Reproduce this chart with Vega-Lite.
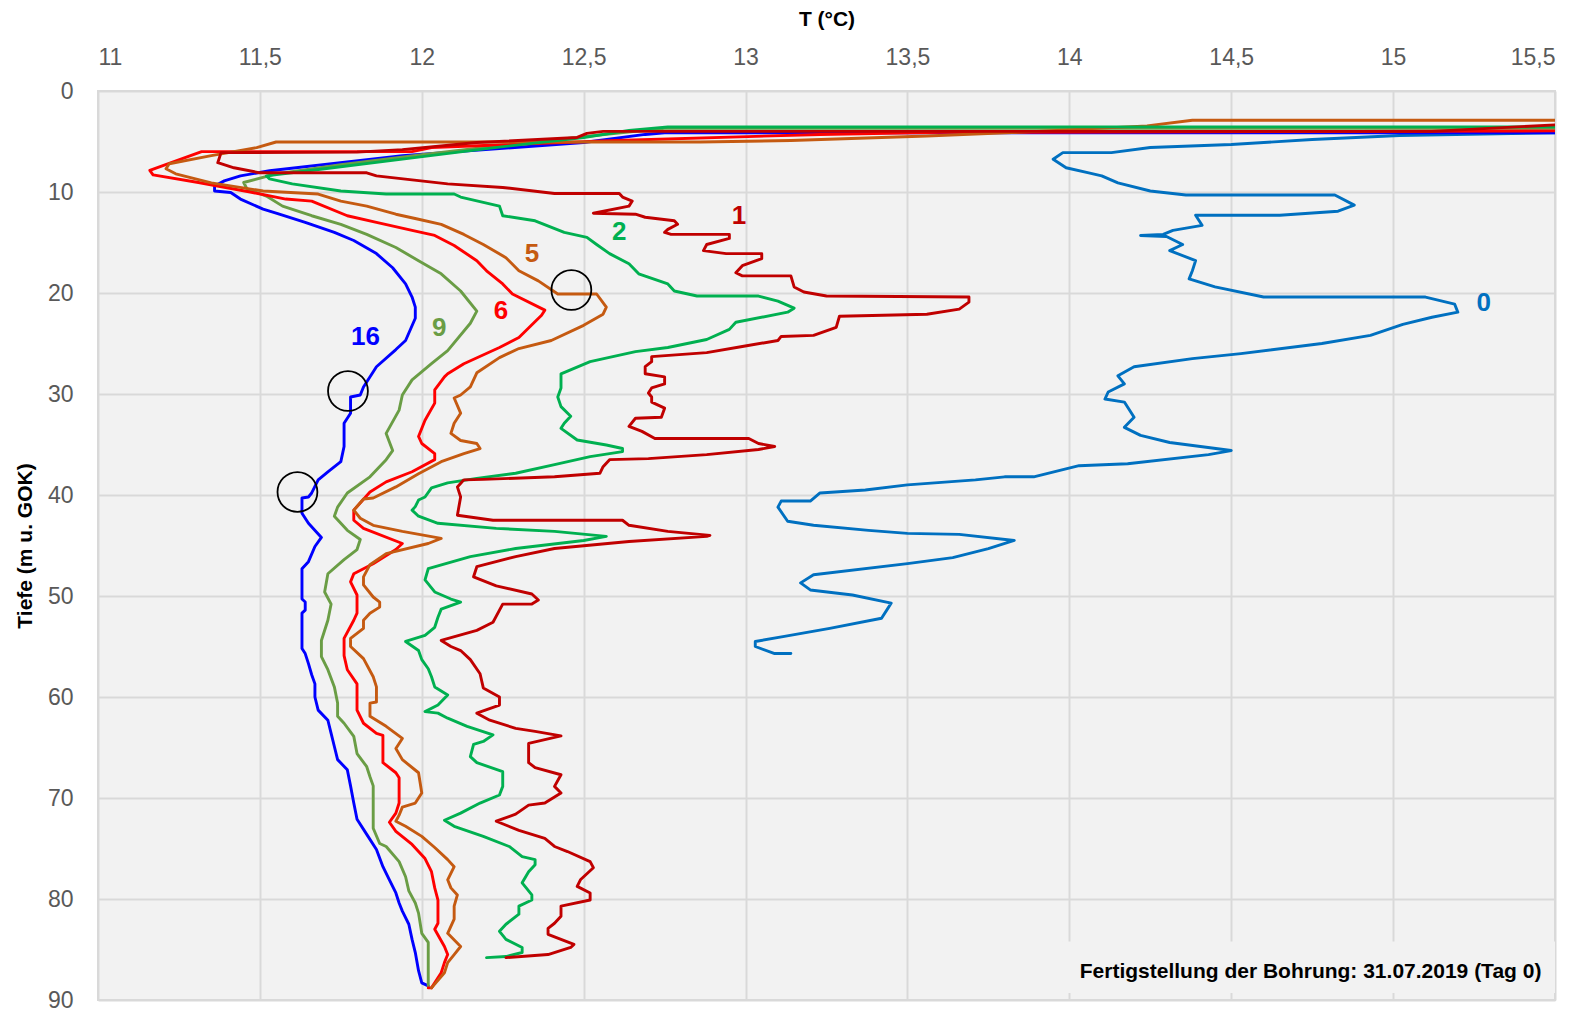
{
  "$schema": "https://vega.github.io/schema/vega-lite/v6.json",
  "width": 1457,
  "height": 909,
  "autosize": {"type": "none"},
  "padding": {"left": 98, "top": 91, "right": 29, "bottom": 11},
  "background": "white",
  "config": {
    "font": "Liberation Sans",
    "view": {"fill": "#F2F2F2", "stroke": "#D9D9D9", "strokeWidth": 2}
  },
  "datasets": {
    "kurven": [
      {"k":"0","T":16.0,"z":4.1},{"k":"0","T":15.5,"z":4.15},{"k":"0","T":15.02,"z":4.4},{"k":"0","T":14.75,"z":4.8},{"k":"0","T":14.5,"z":5.3},{"k":"0","T":14.25,"z":5.6},{"k":"0","T":14.13,"z":6.1},{"k":"0","T":13.98,"z":6.1},{"k":"0","T":13.95,"z":6.75},{"k":"0","T":13.99,"z":7.6},{"k":"0","T":14.06,"z":8.1},{"k":"0","T":14.1,"z":8.4},{"k":"0","T":14.15,"z":9.1},{"k":"0","T":14.25,"z":9.9},{"k":"0","T":14.36,"z":10.3},{"k":"0","T":14.82,"z":10.3},{"k":"0","T":14.88,"z":11.3},{"k":"0","T":14.83,"z":11.9},{"k":"0","T":14.65,"z":12.3},{"k":"0","T":14.39,"z":12.3},{"k":"0","T":14.41,"z":13.3},{"k":"0","T":14.32,"z":13.8},{"k":"0","T":14.29,"z":14.2},{"k":"0","T":14.22,"z":14.3},{"k":"0","T":14.3,"z":14.4},{"k":"0","T":14.35,"z":15.2},{"k":"0","T":14.31,"z":15.8},{"k":"0","T":14.39,"z":16.8},{"k":"0","T":14.38,"z":17.8},{"k":"0","T":14.37,"z":18.6},{"k":"0","T":14.45,"z":19.4},{"k":"0","T":14.6,"z":20.4},{"k":"0","T":15.1,"z":20.4},{"k":"0","T":15.19,"z":21.1},{"k":"0","T":15.2,"z":21.9},{"k":"0","T":15.12,"z":22.4},{"k":"0","T":15.03,"z":23.1},{"k":"0","T":14.93,"z":24.2},{"k":"0","T":14.78,"z":25.0},{"k":"0","T":14.53,"z":26.0},{"k":"0","T":14.38,"z":26.5},{"k":"0","T":14.2,"z":27.3},{"k":"0","T":14.15,"z":28.2},{"k":"0","T":14.17,"z":29.0},{"k":"0","T":14.12,"z":29.8},{"k":"0","T":14.11,"z":30.5},{"k":"0","T":14.17,"z":30.8},{"k":"0","T":14.2,"z":32.3},{"k":"0","T":14.17,"z":33.3},{"k":"0","T":14.22,"z":34.1},{"k":"0","T":14.31,"z":34.8},{"k":"0","T":14.5,"z":35.6},{"k":"0","T":14.43,"z":36.0},{"k":"0","T":14.18,"z":36.9},{"k":"0","T":14.03,"z":37.1},{"k":"0","T":13.89,"z":38.2},{"k":"0","T":13.8,"z":38.2},{"k":"0","T":13.71,"z":38.5},{"k":"0","T":13.5,"z":39.0},{"k":"0","T":13.37,"z":39.5},{"k":"0","T":13.23,"z":39.8},{"k":"0","T":13.2,"z":40.6},{"k":"0","T":13.11,"z":40.6},{"k":"0","T":13.1,"z":41.2},{"k":"0","T":13.13,"z":42.6},{"k":"0","T":13.21,"z":43.0},{"k":"0","T":13.38,"z":43.5},{"k":"0","T":13.5,"z":43.8},{"k":"0","T":13.66,"z":43.9},{"k":"0","T":13.83,"z":44.5},{"k":"0","T":13.75,"z":45.3},{"k":"0","T":13.64,"z":46.2},{"k":"0","T":13.5,"z":46.8},{"k":"0","T":13.21,"z":47.9},{"k":"0","T":13.17,"z":48.7},{"k":"0","T":13.2,"z":49.4},{"k":"0","T":13.33,"z":49.9},{"k":"0","T":13.45,"z":50.7},{"k":"0","T":13.44,"z":51.2},{"k":"0","T":13.42,"z":52.2},{"k":"0","T":13.26,"z":53.2},{"k":"0","T":13.12,"z":54.0},{"k":"0","T":13.03,"z":54.5},{"k":"0","T":13.03,"z":55.0},{"k":"0","T":13.09,"z":55.7},{"k":"0","T":13.14,"z":55.7},

      {"k":"16","T":16.0,"z":4.15},{"k":"16","T":12.75,"z":4.15},{"k":"16","T":12.69,"z":4.3},{"k":"16","T":12.5,"z":5.1},{"k":"16","T":11.94,"z":6.4},{"k":"16","T":11.53,"z":7.9},{"k":"16","T":11.44,"z":8.4},{"k":"16","T":11.39,"z":8.9},{"k":"16","T":11.36,"z":9.4},{"k":"16","T":11.36,"z":9.9},{"k":"16","T":11.41,"z":10.05},{"k":"16","T":11.44,"z":10.7},{"k":"16","T":11.51,"z":11.7},{"k":"16","T":11.56,"z":12.2},{"k":"16","T":11.64,"z":13.0},{"k":"16","T":11.73,"z":14.0},{"k":"16","T":11.79,"z":14.8},{"k":"16","T":11.86,"z":16.1},{"k":"16","T":11.91,"z":17.5},{"k":"16","T":11.95,"z":19.1},{"k":"16","T":11.97,"z":20.4},{"k":"16","T":11.98,"z":21.4},{"k":"16","T":11.98,"z":22.5},{"k":"16","T":11.95,"z":24.7},{"k":"16","T":11.92,"z":25.6},{"k":"16","T":11.86,"z":27.3},{"k":"16","T":11.82,"z":29.3},{"k":"16","T":11.81,"z":30.1},{"k":"16","T":11.78,"z":30.3},{"k":"16","T":11.78,"z":31.9},{"k":"16","T":11.76,"z":32.9},{"k":"16","T":11.76,"z":34.2},{"k":"16","T":11.76,"z":35.2},{"k":"16","T":11.75,"z":36.7},{"k":"16","T":11.71,"z":37.7},{"k":"16","T":11.68,"z":38.5},{"k":"16","T":11.66,"z":39.8},{"k":"16","T":11.65,"z":40.2},{"k":"16","T":11.63,"z":40.3},{"k":"16","T":11.63,"z":41.8},{"k":"16","T":11.65,"z":42.8},{"k":"16","T":11.69,"z":44.2},{"k":"16","T":11.67,"z":45.1},{"k":"16","T":11.65,"z":46.6},{"k":"16","T":11.63,"z":47.3},{"k":"16","T":11.63,"z":50.3},{"k":"16","T":11.64,"z":50.6},{"k":"16","T":11.64,"z":51.4},{"k":"16","T":11.63,"z":51.7},{"k":"16","T":11.63,"z":55.2},{"k":"16","T":11.64,"z":55.7},{"k":"16","T":11.65,"z":56.7},{"k":"16","T":11.66,"z":57.8},{"k":"16","T":11.67,"z":58.7},{"k":"16","T":11.67,"z":60.0},{"k":"16","T":11.68,"z":61.3},{"k":"16","T":11.71,"z":62.3},{"k":"16","T":11.72,"z":63.6},{"k":"16","T":11.73,"z":64.9},{"k":"16","T":11.74,"z":66.2},{"k":"16","T":11.77,"z":67.2},{"k":"16","T":11.78,"z":68.8},{"k":"16","T":11.79,"z":70.5},{"k":"16","T":11.8,"z":72.1},{"k":"16","T":11.83,"z":73.6},{"k":"16","T":11.86,"z":75.1},{"k":"16","T":11.88,"z":76.8},{"k":"16","T":11.9,"z":78.1},{"k":"16","T":11.92,"z":79.4},{"k":"16","T":11.93,"z":80.4},{"k":"16","T":11.94,"z":81.2},{"k":"16","T":11.96,"z":82.5},{"k":"16","T":11.97,"z":84.0},{"k":"16","T":11.98,"z":85.3},{"k":"16","T":11.99,"z":87.1},{"k":"16","T":12.0,"z":88.3},{"k":"16","T":12.02,"z":88.6},

      {"k":"9","T":16.0,"z":3.7},{"k":"9","T":12.75,"z":3.7},{"k":"9","T":12.6,"z":4.2},{"k":"9","T":12.3,"z":5.2},{"k":"9","T":12.0,"z":6.3},{"k":"9","T":11.75,"z":7.3},{"k":"9","T":11.55,"z":8.2},{"k":"9","T":11.45,"z":9.06},{"k":"9","T":11.46,"z":9.7},{"k":"9","T":11.52,"z":10.4},{"k":"9","T":11.57,"z":11.4},{"k":"9","T":11.66,"z":12.35},{"k":"9","T":11.75,"z":13.2},{"k":"9","T":11.83,"z":14.2},{"k":"9","T":11.92,"z":15.5},{"k":"9","T":11.99,"z":16.8},{"k":"9","T":12.06,"z":18.1},{"k":"9","T":12.12,"z":19.8},{"k":"9","T":12.17,"z":21.8},{"k":"9","T":12.15,"z":23.0},{"k":"9","T":12.08,"z":25.7},{"k":"9","T":12.03,"z":27.0},{"k":"9","T":11.97,"z":28.6},{"k":"9","T":11.94,"z":30.1},{"k":"9","T":11.93,"z":31.6},{"k":"9","T":11.89,"z":33.9},{"k":"9","T":11.91,"z":35.6},{"k":"9","T":11.89,"z":36.5},{"k":"9","T":11.84,"z":38.2},{"k":"9","T":11.77,"z":39.8},{"k":"9","T":11.74,"z":41.2},{"k":"9","T":11.73,"z":42.1},{"k":"9","T":11.77,"z":43.5},{"k":"9","T":11.81,"z":44.4},{"k":"9","T":11.8,"z":45.4},{"k":"9","T":11.76,"z":46.4},{"k":"9","T":11.71,"z":47.8},{"k":"9","T":11.7,"z":49.6},{"k":"9","T":11.72,"z":50.8},{"k":"9","T":11.71,"z":52.4},{"k":"9","T":11.69,"z":54.4},{"k":"9","T":11.69,"z":56.0},{"k":"9","T":11.71,"z":57.3},{"k":"9","T":11.73,"z":59.0},{"k":"9","T":11.74,"z":60.6},{"k":"9","T":11.74,"z":61.9},{"k":"9","T":11.76,"z":62.6},{"k":"9","T":11.79,"z":63.9},{"k":"9","T":11.8,"z":65.6},{"k":"9","T":11.83,"z":66.9},{"k":"9","T":11.84,"z":67.9},{"k":"9","T":11.85,"z":68.8},{"k":"9","T":11.85,"z":73.0},{"k":"9","T":11.87,"z":74.5},{"k":"9","T":11.89,"z":74.8},{"k":"9","T":11.93,"z":76.3},{"k":"9","T":11.95,"z":77.8},{"k":"9","T":11.96,"z":79.2},{"k":"9","T":11.98,"z":80.4},{"k":"9","T":11.99,"z":81.4},{"k":"9","T":12.0,"z":83.4},{"k":"9","T":12.02,"z":84.3},{"k":"9","T":12.02,"z":88.6},

      {"k":"6","T":16.0,"z":3.9},{"k":"6","T":15.5,"z":3.95},{"k":"6","T":13.6,"z":4.1},{"k":"6","T":13.23,"z":4.3},{"k":"6","T":12.6,"z":4.9},{"k":"6","T":12.03,"z":5.6},{"k":"6","T":11.97,"z":6.0},{"k":"6","T":11.32,"z":6.0},{"k":"6","T":11.16,"z":7.85},{"k":"6","T":11.17,"z":8.3},{"k":"6","T":11.31,"z":9.06},{"k":"6","T":11.47,"z":10.0},{"k":"6","T":11.58,"z":10.7},{"k":"6","T":11.66,"z":10.9},{"k":"6","T":11.77,"z":12.35},{"k":"6","T":11.86,"z":13.0},{"k":"6","T":11.97,"z":13.8},{"k":"6","T":12.04,"z":14.3},{"k":"6","T":12.1,"z":15.3},{"k":"6","T":12.17,"z":16.8},{"k":"6","T":12.2,"z":17.8},{"k":"6","T":12.25,"z":19.1},{"k":"6","T":12.28,"z":20.1},{"k":"6","T":12.38,"z":21.7},{"k":"6","T":12.37,"z":22.2},{"k":"6","T":12.3,"z":24.4},{"k":"6","T":12.24,"z":25.4},{"k":"6","T":12.13,"z":27.0},{"k":"6","T":12.08,"z":28.0},{"k":"6","T":12.07,"z":28.3},{"k":"6","T":12.04,"z":29.6},{"k":"6","T":12.04,"z":30.9},{"k":"6","T":12.01,"z":32.6},{"k":"6","T":11.99,"z":34.2},{"k":"6","T":12.0,"z":34.9},{"k":"6","T":12.04,"z":35.9},{"k":"6","T":12.04,"z":36.5},{"k":"6","T":11.97,"z":37.7},{"k":"6","T":11.89,"z":38.7},{"k":"6","T":11.84,"z":39.7},{"k":"6","T":11.79,"z":41.5},{"k":"6","T":11.79,"z":42.5},{"k":"6","T":11.82,"z":43.3},{"k":"6","T":11.94,"z":44.8},{"k":"6","T":11.92,"z":45.4},{"k":"6","T":11.85,"z":46.8},{"k":"6","T":11.79,"z":47.8},{"k":"6","T":11.78,"z":48.6},{"k":"6","T":11.8,"z":49.9},{"k":"6","T":11.8,"z":51.7},{"k":"6","T":11.79,"z":52.4},{"k":"6","T":11.76,"z":54.2},{"k":"6","T":11.76,"z":55.9},{"k":"6","T":11.77,"z":57.3},{"k":"6","T":11.8,"z":58.7},{"k":"6","T":11.8,"z":61.3},{"k":"6","T":11.82,"z":62.6},{"k":"6","T":11.86,"z":63.6},{"k":"6","T":11.88,"z":63.8},{"k":"6","T":11.88,"z":66.5},{"k":"6","T":11.92,"z":67.5},{"k":"6","T":11.93,"z":68.0},{"k":"6","T":11.93,"z":70.5},{"k":"6","T":11.92,"z":71.5},{"k":"6","T":11.9,"z":72.4},{"k":"6","T":11.92,"z":73.3},{"k":"6","T":11.97,"z":74.6},{"k":"6","T":11.99,"z":75.3},{"k":"6","T":12.01,"z":76.0},{"k":"6","T":12.03,"z":77.3},{"k":"6","T":12.04,"z":78.9},{"k":"6","T":12.05,"z":80.1},{"k":"6","T":12.05,"z":82.4},{"k":"6","T":12.04,"z":83.0},{"k":"6","T":12.07,"z":84.7},{"k":"6","T":12.08,"z":85.5},{"k":"6","T":12.07,"z":86.3},{"k":"6","T":12.06,"z":87.3},{"k":"6","T":12.03,"z":88.8},{"k":"6","T":12.02,"z":88.8},

      {"k":"5","T":16.0,"z":2.9},{"k":"5","T":14.38,"z":2.9},{"k":"5","T":14.24,"z":3.45},{"k":"5","T":13.9,"z":4.0},{"k":"5","T":13.56,"z":4.45},{"k":"5","T":13.14,"z":4.9},{"k":"5","T":12.86,"z":5.05},{"k":"5","T":11.55,"z":5.05},{"k":"5","T":11.49,"z":5.6},{"k":"5","T":11.35,"z":6.4},{"k":"5","T":11.22,"z":7.2},{"k":"5","T":11.21,"z":7.7},{"k":"5","T":11.24,"z":8.2},{"k":"5","T":11.35,"z":9.1},{"k":"5","T":11.51,"z":9.9},{"k":"5","T":11.68,"z":10.2},{"k":"5","T":11.75,"z":10.9},{"k":"5","T":11.83,"z":11.4},{"k":"5","T":11.92,"z":12.2},{"k":"5","T":11.99,"z":12.7},{"k":"5","T":12.06,"z":13.2},{"k":"5","T":12.13,"z":14.2},{"k":"5","T":12.19,"z":15.2},{"k":"5","T":12.26,"z":16.5},{"k":"5","T":12.3,"z":17.8},{"k":"5","T":12.36,"z":18.8},{"k":"5","T":12.42,"z":20.1},{"k":"5","T":12.54,"z":20.1},{"k":"5","T":12.57,"z":21.4},{"k":"5","T":12.56,"z":22.1},{"k":"5","T":12.5,"z":23.2},{"k":"5","T":12.4,"z":24.7},{"k":"5","T":12.3,"z":25.5},{"k":"5","T":12.24,"z":26.4},{"k":"5","T":12.17,"z":27.9},{"k":"5","T":12.15,"z":29.3},{"k":"5","T":12.12,"z":30.1},{"k":"5","T":12.1,"z":30.4},{"k":"5","T":12.12,"z":31.9},{"k":"5","T":12.1,"z":32.9},{"k":"5","T":12.09,"z":33.9},{"k":"5","T":12.12,"z":34.6},{"k":"5","T":12.17,"z":34.9},{"k":"5","T":12.18,"z":35.4},{"k":"5","T":12.13,"z":35.9},{"k":"5","T":12.06,"z":36.7},{"k":"5","T":11.99,"z":37.9},{"k":"5","T":11.92,"z":39.2},{"k":"5","T":11.85,"z":40.3},{"k":"5","T":11.82,"z":40.4},{"k":"5","T":11.79,"z":41.5},{"k":"5","T":11.81,"z":42.3},{"k":"5","T":11.85,"z":43.0},{"k":"5","T":11.94,"z":43.6},{"k":"5","T":12.06,"z":44.3},{"k":"5","T":12.02,"z":44.8},{"k":"5","T":11.89,"z":45.8},{"k":"5","T":11.84,"z":46.9},{"k":"5","T":11.82,"z":48.1},{"k":"5","T":11.82,"z":48.9},{"k":"5","T":11.85,"z":50.1},{"k":"5","T":11.87,"z":50.6},{"k":"5","T":11.87,"z":51.1},{"k":"5","T":11.84,"z":51.7},{"k":"5","T":11.82,"z":52.4},{"k":"5","T":11.82,"z":53.2},{"k":"5","T":11.78,"z":54.2},{"k":"5","T":11.78,"z":55.0},{"k":"5","T":11.82,"z":56.2},{"k":"5","T":11.85,"z":58.0},{"k":"5","T":11.86,"z":59.0},{"k":"5","T":11.86,"z":60.5},{"k":"5","T":11.84,"z":60.6},{"k":"5","T":11.84,"z":61.9},{"k":"5","T":11.89,"z":62.9},{"k":"5","T":11.94,"z":64.1},{"k":"5","T":11.92,"z":65.1},{"k":"5","T":11.94,"z":66.2},{"k":"5","T":11.99,"z":67.5},{"k":"5","T":12.0,"z":69.5},{"k":"5","T":11.98,"z":70.5},{"k":"5","T":11.94,"z":70.9},{"k":"5","T":11.93,"z":71.7},{"k":"5","T":11.92,"z":72.3},{"k":"5","T":11.95,"z":72.8},{"k":"5","T":12.0,"z":73.8},{"k":"5","T":12.04,"z":74.9},{"k":"5","T":12.08,"z":76.1},{"k":"5","T":12.1,"z":76.8},{"k":"5","T":12.08,"z":78.1},{"k":"5","T":12.09,"z":78.9},{"k":"5","T":12.11,"z":79.6},{"k":"5","T":12.1,"z":80.7},{"k":"5","T":12.1,"z":82.0},{"k":"5","T":12.08,"z":83.4},{"k":"5","T":12.12,"z":84.7},{"k":"5","T":12.1,"z":85.5},{"k":"5","T":12.08,"z":86.3},{"k":"5","T":12.07,"z":87.3},{"k":"5","T":12.03,"z":88.8},

      {"k":"2","T":16.0,"z":3.55},{"k":"2","T":12.76,"z":3.56},{"k":"2","T":12.64,"z":3.9},{"k":"2","T":12.5,"z":4.6},{"k":"2","T":12.2,"z":5.7},{"k":"2","T":11.94,"z":6.75},{"k":"2","T":11.7,"z":7.7},{"k":"2","T":11.52,"z":8.4},{"k":"2","T":11.53,"z":8.7},{"k":"2","T":11.6,"z":9.2},{"k":"2","T":11.75,"z":9.9},{"k":"2","T":11.89,"z":10.2},{"k":"2","T":12.1,"z":10.2},{"k":"2","T":12.12,"z":10.5},{"k":"2","T":12.24,"z":11.4},{"k":"2","T":12.25,"z":12.35},{"k":"2","T":12.35,"z":12.85},{"k":"2","T":12.44,"z":14.0},{"k":"2","T":12.51,"z":14.5},{"k":"2","T":12.54,"z":15.2},{"k":"2","T":12.58,"z":16.1},{"k":"2","T":12.64,"z":17.1},{"k":"2","T":12.67,"z":18.1},{"k":"2","T":12.76,"z":19.1},{"k":"2","T":12.78,"z":19.8},{"k":"2","T":12.85,"z":20.3},{"k":"2","T":13.04,"z":20.3},{"k":"2","T":13.1,"z":20.8},{"k":"2","T":13.15,"z":21.5},{"k":"2","T":13.13,"z":21.9},{"k":"2","T":12.97,"z":22.9},{"k":"2","T":12.95,"z":23.6},{"k":"2","T":12.88,"z":24.6},{"k":"2","T":12.76,"z":25.4},{"k":"2","T":12.66,"z":25.8},{"k":"2","T":12.52,"z":26.8},{"k":"2","T":12.43,"z":28.0},{"k":"2","T":12.43,"z":29.4},{"k":"2","T":12.42,"z":30.3},{"k":"2","T":12.43,"z":31.25},{"k":"2","T":12.46,"z":32.2},{"k":"2","T":12.44,"z":32.9},{"k":"2","T":12.43,"z":33.4},{"k":"2","T":12.48,"z":34.55},{"k":"2","T":12.57,"z":35.05},{"k":"2","T":12.62,"z":35.4},{"k":"2","T":12.62,"z":35.7},{"k":"2","T":12.52,"z":36.2},{"k":"2","T":12.41,"z":37.0},{"k":"2","T":12.29,"z":37.85},{"k":"2","T":12.17,"z":38.35},{"k":"2","T":12.08,"z":38.8},{"k":"2","T":12.03,"z":39.3},{"k":"2","T":12.01,"z":40.2},{"k":"2","T":11.99,"z":40.5},{"k":"2","T":11.98,"z":41.15},{"k":"2","T":11.97,"z":41.5},{"k":"2","T":11.99,"z":42.1},{"k":"2","T":12.05,"z":42.8},{"k":"2","T":12.23,"z":43.3},{"k":"2","T":12.41,"z":43.6},{"k":"2","T":12.57,"z":44.1},{"k":"2","T":12.5,"z":44.5},{"k":"2","T":12.29,"z":45.3},{"k":"2","T":12.15,"z":46.1},{"k":"2","T":12.02,"z":47.3},{"k":"2","T":12.01,"z":48.4},{"k":"2","T":12.04,"z":49.6},{"k":"2","T":12.09,"z":50.3},{"k":"2","T":12.12,"z":50.6},{"k":"2","T":12.06,"z":51.3},{"k":"2","T":12.05,"z":52.1},{"k":"2","T":12.04,"z":53.1},{"k":"2","T":12.01,"z":53.9},{"k":"2","T":11.95,"z":54.5},{"k":"2","T":11.99,"z":55.4},{"k":"2","T":12.0,"z":56.3},{"k":"2","T":12.02,"z":57.2},{"k":"2","T":12.03,"z":58.0},{"k":"2","T":12.04,"z":59.0},{"k":"2","T":12.08,"z":59.8},{"k":"2","T":12.05,"z":60.8},{"k":"2","T":12.01,"z":61.45},{"k":"2","T":12.05,"z":61.6},{"k":"2","T":12.08,"z":62.1},{"k":"2","T":12.14,"z":62.9},{"k":"2","T":12.22,"z":63.75},{"k":"2","T":12.19,"z":64.4},{"k":"2","T":12.16,"z":64.7},{"k":"2","T":12.15,"z":65.9},{"k":"2","T":12.17,"z":66.5},{"k":"2","T":12.25,"z":67.4},{"k":"2","T":12.25,"z":67.9},{"k":"2","T":12.25,"z":68.85},{"k":"2","T":12.24,"z":69.7},{"k":"2","T":12.18,"z":70.5},{"k":"2","T":12.12,"z":71.5},{"k":"2","T":12.07,"z":72.2},{"k":"2","T":12.1,"z":72.8},{"k":"2","T":12.19,"z":73.8},{"k":"2","T":12.27,"z":74.8},{"k":"2","T":12.31,"z":75.8},{"k":"2","T":12.35,"z":76.1},{"k":"2","T":12.35,"z":76.6},{"k":"2","T":12.33,"z":77.3},{"k":"2","T":12.31,"z":78.4},{"k":"2","T":12.34,"z":79.6},{"k":"2","T":12.34,"z":80.1},{"k":"2","T":12.3,"z":80.7},{"k":"2","T":12.3,"z":81.5},{"k":"2","T":12.26,"z":82.5},{"k":"2","T":12.24,"z":83.2},{"k":"2","T":12.26,"z":84.0},{"k":"2","T":12.31,"z":84.8},{"k":"2","T":12.31,"z":85.3},{"k":"2","T":12.26,"z":85.7},{"k":"2","T":12.2,"z":85.8},

      {"k":"1","T":16.0,"z":3.2},{"k":"1","T":15.5,"z":3.35},{"k":"1","T":15.12,"z":4.0},{"k":"1","T":12.56,"z":4.0},{"k":"1","T":12.51,"z":4.2},{"k":"1","T":12.48,"z":4.6},{"k":"1","T":12.17,"z":5.1},{"k":"1","T":11.94,"z":5.8},{"k":"1","T":11.8,"z":6.05},{"k":"1","T":11.38,"z":6.1},{"k":"1","T":11.37,"z":7.1},{"k":"1","T":11.42,"z":7.6},{"k":"1","T":11.5,"z":8.1},{"k":"1","T":11.83,"z":8.1},{"k":"1","T":11.86,"z":8.4},{"k":"1","T":11.97,"z":8.8},{"k":"1","T":12.08,"z":9.2},{"k":"1","T":12.25,"z":9.55},{"k":"1","T":12.41,"z":10.15},{"k":"1","T":12.61,"z":10.15},{"k":"1","T":12.62,"z":10.5},{"k":"1","T":12.65,"z":10.9},{"k":"1","T":12.64,"z":11.4},{"k":"1","T":12.53,"z":12.1},{"k":"1","T":12.66,"z":12.2},{"k":"1","T":12.69,"z":12.5},{"k":"1","T":12.78,"z":12.85},{"k":"1","T":12.79,"z":13.2},{"k":"1","T":12.76,"z":13.7},{"k":"1","T":12.75,"z":14.0},{"k":"1","T":12.77,"z":14.2},{"k":"1","T":12.95,"z":14.2},{"k":"1","T":12.95,"z":14.6},{"k":"1","T":12.88,"z":15.2},{"k":"1","T":12.87,"z":15.8},{"k":"1","T":12.94,"z":16.1},{"k":"1","T":13.05,"z":16.1},{"k":"1","T":13.05,"z":16.6},{"k":"1","T":12.99,"z":17.3},{"k":"1","T":12.97,"z":18.0},{"k":"1","T":12.99,"z":18.3},{"k":"1","T":13.14,"z":18.3},{"k":"1","T":13.15,"z":19.4},{"k":"1","T":13.18,"z":19.9},{"k":"1","T":13.25,"z":20.3},{"k":"1","T":13.69,"z":20.4},{"k":"1","T":13.69,"z":20.9},{"k":"1","T":13.66,"z":21.6},{"k":"1","T":13.56,"z":22.1},{"k":"1","T":13.29,"z":22.3},{"k":"1","T":13.28,"z":23.4},{"k":"1","T":13.21,"z":24.2},{"k":"1","T":13.11,"z":24.3},{"k":"1","T":13.1,"z":24.7},{"k":"1","T":12.99,"z":25.3},{"k":"1","T":12.88,"z":25.9},{"k":"1","T":12.71,"z":26.3},{"k":"1","T":12.71,"z":26.8},{"k":"1","T":12.69,"z":27.3},{"k":"1","T":12.69,"z":28.0},{"k":"1","T":12.75,"z":28.3},{"k":"1","T":12.75,"z":29.0},{"k":"1","T":12.71,"z":29.4},{"k":"1","T":12.7,"z":29.9},{"k":"1","T":12.71,"z":30.3},{"k":"1","T":12.71,"z":30.8},{"k":"1","T":12.75,"z":31.4},{"k":"1","T":12.74,"z":32.3},{"k":"1","T":12.66,"z":32.4},{"k":"1","T":12.64,"z":33.2},{"k":"1","T":12.68,"z":33.7},{"k":"1","T":12.72,"z":34.4},{"k":"1","T":13.01,"z":34.4},{"k":"1","T":13.04,"z":34.9},{"k":"1","T":13.09,"z":35.2},{"k":"1","T":13.04,"z":35.5},{"k":"1","T":12.88,"z":36.0},{"k":"1","T":12.7,"z":36.4},{"k":"1","T":12.58,"z":36.5},{"k":"1","T":12.56,"z":37.2},{"k":"1","T":12.55,"z":37.85},{"k":"1","T":12.41,"z":38.2},{"k":"1","T":12.19,"z":38.45},{"k":"1","T":12.13,"z":38.5},{"k":"1","T":12.11,"z":39.2},{"k":"1","T":12.12,"z":40.2},{"k":"1","T":12.11,"z":42.0},{"k":"1","T":12.22,"z":42.5},{"k":"1","T":12.62,"z":42.5},{"k":"1","T":12.64,"z":43.0},{"k":"1","T":12.76,"z":43.6},{"k":"1","T":12.89,"z":44.0},{"k":"1","T":12.88,"z":44.1},{"k":"1","T":12.64,"z":44.6},{"k":"1","T":12.41,"z":45.3},{"k":"1","T":12.29,"z":46.1},{"k":"1","T":12.17,"z":47.1},{"k":"1","T":12.16,"z":48.1},{"k":"1","T":12.23,"z":49.0},{"k":"1","T":12.34,"z":49.8},{"k":"1","T":12.36,"z":50.4},{"k":"1","T":12.34,"z":50.8},{"k":"1","T":12.25,"z":50.8},{"k":"1","T":12.24,"z":51.4},{"k":"1","T":12.22,"z":52.6},{"k":"1","T":12.17,"z":53.4},{"k":"1","T":12.06,"z":54.4},{"k":"1","T":12.09,"z":55.0},{"k":"1","T":12.12,"z":55.4},{"k":"1","T":12.15,"z":56.3},{"k":"1","T":12.18,"z":57.7},{"k":"1","T":12.19,"z":59.1},{"k":"1","T":12.24,"z":60.0},{"k":"1","T":12.24,"z":60.8},{"k":"1","T":12.17,"z":61.6},{"k":"1","T":12.21,"z":62.3},{"k":"1","T":12.29,"z":63.1},{"k":"1","T":12.35,"z":63.4},{"k":"1","T":12.43,"z":63.85},{"k":"1","T":12.33,"z":64.6},{"k":"1","T":12.33,"z":66.5},{"k":"1","T":12.35,"z":67.0},{"k":"1","T":12.43,"z":67.7},{"k":"1","T":12.41,"z":68.85},{"k":"1","T":12.43,"z":69.5},{"k":"1","T":12.38,"z":70.5},{"k":"1","T":12.33,"z":70.7},{"k":"1","T":12.29,"z":71.6},{"k":"1","T":12.23,"z":72.3},{"k":"1","T":12.3,"z":73.2},{"k":"1","T":12.38,"z":74.0},{"k":"1","T":12.41,"z":74.8},{"k":"1","T":12.45,"z":75.3},{"k":"1","T":12.52,"z":76.3},{"k":"1","T":12.53,"z":76.9},{"k":"1","T":12.49,"z":78.1},{"k":"1","T":12.48,"z":78.75},{"k":"1","T":12.52,"z":79.4},{"k":"1","T":12.52,"z":80.1},{"k":"1","T":12.43,"z":80.7},{"k":"1","T":12.43,"z":81.7},{"k":"1","T":12.41,"z":82.4},{"k":"1","T":12.39,"z":82.9},{"k":"1","T":12.39,"z":83.5},{"k":"1","T":12.47,"z":84.5},{"k":"1","T":12.46,"z":84.8},{"k":"1","T":12.39,"z":85.5},{"k":"1","T":12.26,"z":85.8}
    ],
    "kreise": [
      {"T": 12.462, "z": 19.7},
      {"T": 11.772, "z": 29.7},
      {"T": 11.616, "z": 39.7}
    ],
    "beschriftung": [
      {"k": "0", "T": 15.28, "z": 21.0},
      {"k": "1", "T": 12.98, "z": 12.4},
      {"k": "2", "T": 12.61, "z": 14.0},
      {"k": "5", "T": 12.34, "z": 16.1},
      {"k": "6", "T": 12.245, "z": 21.8},
      {"k": "9", "T": 12.054, "z": 23.5},
      {"k": "16", "T": 11.826, "z": 24.4}
    ],
    "hinweis": [
      {"T": 13.98, "T2": 15.5, "z": 84.2, "z2": 89.3, "Tt": 14.745, "zt": 87.2, "text": "Fertigstellung der Bohrung:  31.07.2019 (Tag 0)"}
    ]
  },
  "layer": [
    {
      "data": {"name": "hinweis"},
      "mark": {"type": "rect", "fill": "#F2F2F2", "stroke": null},
      "encoding": {
        "x": {
          "field": "T", "type": "quantitative",
          "scale": {"domain": [11, 15.5], "nice": false, "zero": false},
          "axis": {
            "orient": "top",
            "values": [11, 11.5, 12, 12.5, 13, 13.5, 14, 14.5, 15, 15.5],
            "labelExpr": "replace(toString(datum.value), '.', ',')",
            "title": "T (°C)",
            "titleFontSize": 21, "titleFontWeight": "bold", "titleColor": "#000000",
            "titleY": -72, "titleBaseline": "middle",
            "labelFontSize": 23, "labelColor": "#595959", "labelPadding": 22,
            "ticks": false, "domain": false,
            "grid": true, "gridColor": "#D9D9D9", "gridWidth": 2
          }
        },
        "x2": {"field": "T2"},
        "y": {
          "field": "z", "type": "quantitative",
          "scale": {"domain": [0, 90], "reverse": true, "nice": false, "zero": false},
          "axis": {
            "orient": "left",
            "values": [0, 10, 20, 30, 40, 50, 60, 70, 80, 90],
            "title": "Tiefe (m u. GOK)",
            "titleFontSize": 21, "titleFontWeight": "bold", "titleColor": "#000000",
            "titleX": -73, "titleY": 454.5, "titleBaseline": "middle", "titleAngle": -90,
            "labelFontSize": 23, "labelColor": "#595959", "labelPadding": 25,
            "ticks": false, "domain": false,
            "grid": true, "gridColor": "#D9D9D9", "gridWidth": 2
          }
        },
        "y2": {"field": "z2"}
      }
    },
    {
      "data": {"name": "hinweis"},
      "mark": {"type": "text", "fontSize": 21, "fontWeight": "bold", "color": "#000000", "align": "center", "baseline": "middle"},
      "encoding": {
        "x": {"field": "Tt", "type": "quantitative"},
        "y": {"field": "zt", "type": "quantitative"},
        "text": {"field": "text"}
      }
    },
    {
      "data": {"name": "kurven"},
      "mark": {"type": "line", "strokeWidth": 2.9, "clip": true, "strokeJoin": "round", "strokeCap": "round"},
      "encoding": {
        "x": {"field": "T", "type": "quantitative"},
        "y": {"field": "z", "type": "quantitative"},
        "color": {
          "field": "k", "type": "nominal",
          "scale": {
            "domain": ["0", "1", "2", "5", "6", "9", "16"],
            "range": ["#0070C0", "#C00000", "#00B050", "#C55A11", "#FF0000", "#6A9D45", "#0000FF"]
          },
          "legend": null
        },
        "order": {"value": null}
      }
    },
    {
      "data": {"name": "kreise"},
      "mark": {"type": "point", "shape": "circle", "filled": false, "size": 1590, "stroke": "#000000", "strokeWidth": 1.8, "opacity": 1},
      "encoding": {
        "x": {"field": "T", "type": "quantitative"},
        "y": {"field": "z", "type": "quantitative"}
      }
    },
    {
      "data": {"name": "beschriftung"},
      "mark": {"type": "text", "fontSize": 26, "fontWeight": "bold", "align": "center", "baseline": "middle"},
      "encoding": {
        "x": {"field": "T", "type": "quantitative"},
        "y": {"field": "z", "type": "quantitative"},
        "text": {"field": "k"},
        "color": {
          "field": "k", "type": "nominal",
          "scale": {
            "domain": ["0", "1", "2", "5", "6", "9", "16"],
            "range": ["#0070C0", "#C00000", "#00B050", "#C55A11", "#FF0000", "#6A9D45", "#0000FF"]
          },
          "legend": null
        }
      }
    }
  ]
}
